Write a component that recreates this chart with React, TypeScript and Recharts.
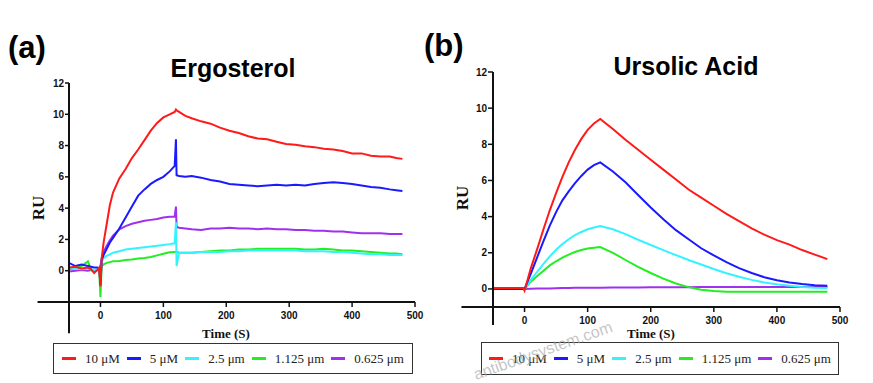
import { LineChart, Line, XAxis, YAxis, ReferenceLine } from 'recharts';

const seriesNames = ['10 μM', '5 μM', '2.5 μm', '1.125 μm', '0.625 μm'];
const seriesColors = ['#ff1a1a', '#1a1aff', '#33f3ff', '#22ee22', '#a030f0'];
// purple first, red last so red sits on top
const drawOrder = [4, 3, 2, 1, 0];

const timeTicks = [0, 100, 200, 300, 400, 500];
const ruTicks = [0, 2, 4, 6, 8, 10, 12];

// Ergosterol sensorgram, time in s
const ergoTime = [-50, -40, -30, -20, -15, -10, -5, -2, 0, 2, 5, 10, 15, 20, 30, 40, 50, 60, 70, 80, 90, 100, 110, 118, 120, 121, 125, 135, 145, 160, 175, 190, 205, 220, 235, 250, 265, 280, 295, 310, 325, 340, 355, 370, 385, 400, 415, 430, 445, 460, 470, 480];
const ergo10 = [0.2, 0.25, 0.15, 0.2, 0.1, -0.15, 0.05, 0.2, -1.0, 0.8, 1.8, 3.0, 4.2, 5.0, 5.9, 6.5, 7.2, 7.75, 8.35, 8.95, 9.45, 9.8, 10.0, 10.15, 10.3, 10.25, 10.15, 9.9, 9.75, 9.55, 9.4, 9.15, 8.95, 8.8, 8.6, 8.45, 8.4, 8.25, 8.1, 8.05, 7.95, 7.9, 7.8, 7.75, 7.65, 7.5, 7.5, 7.35, 7.3, 7.3, 7.2, 7.15];
const ergo5 = [0.5, 0.3, 0.4, 0.3, 0.25, 0.2, 0.2, 0.15, -0.9, 0.7, 1.0, 1.4, 1.8, 2.1, 2.7, 3.4, 4.1, 4.8, 5.2, 5.55, 5.8, 6.0, 6.35, 6.7, 8.4, 6.1, 6.05, 6.0, 6.05, 5.95, 5.8, 5.7, 5.55, 5.5, 5.45, 5.4, 5.45, 5.5, 5.45, 5.5, 5.45, 5.55, 5.6, 5.65, 5.6, 5.55, 5.45, 5.35, 5.3, 5.2, 5.15, 5.1];
const ergo2p5 = [0.2, 0.15, 0.1, 0.15, 0.1, 0.05, 0.1, 0.1, -0.5, 0.6, 0.8, 0.95, 1.05, 1.15, 1.25, 1.35, 1.4, 1.45, 1.5, 1.55, 1.6, 1.65, 1.7, 1.75, 3.1, 0.3, 1.15, 1.15, 1.15, 1.2, 1.2, 1.2, 1.25, 1.25, 1.3, 1.3, 1.3, 1.3, 1.3, 1.3, 1.25, 1.25, 1.25, 1.2, 1.2, 1.15, 1.1, 1.05, 1.05, 1.0, 1.0, 1.0];
const ergo1p125 = [0.1, 0.15, 0.3, 0.6, 0.05, 0.0, 0.05, 0.0, -1.7, 0.3, 0.4, 0.5, 0.55, 0.6, 0.62, 0.68, 0.72, 0.78, 0.82, 0.88, 0.98, 1.08, 1.18, 1.2, 1.2, 1.2, 1.15, 1.15, 1.15, 1.2, 1.25, 1.3, 1.3, 1.35, 1.35, 1.4, 1.4, 1.4, 1.4, 1.4, 1.35, 1.35, 1.4, 1.35, 1.3, 1.3, 1.25, 1.2, 1.15, 1.1, 1.1, 1.05];
const ergo0p625 = [-0.05, 0.0, 0.05, 0.0, 0.05, 0.0, 0.05, 0.05, 0.3, 0.8, 1.2, 1.6, 1.95, 2.25, 2.65, 2.85, 3.0, 3.1, 3.2, 3.25, 3.3, 3.4, 3.45, 3.45, 4.1, 2.8, 2.75, 2.7, 2.65, 2.6, 2.7, 2.7, 2.75, 2.7, 2.7, 2.65, 2.7, 2.65, 2.65, 2.6, 2.6, 2.55, 2.55, 2.5, 2.5, 2.45, 2.4, 2.4, 2.4, 2.35, 2.35, 2.35];

// Ursolic acid sensorgram, time in s
const ursoTime = [-50, -2, 0, 10, 20, 30, 40, 50, 60, 70, 80, 90, 100, 110, 120, 140, 160, 180, 200, 220, 240, 260, 280, 300, 320, 340, 360, 380, 400, 420, 440, 460, 480];
const urso10 = [0.05, 0.05, -0.1, 1.15, 2.2, 3.3, 4.35, 5.3, 6.2, 7.0, 7.7, 8.3, 8.8, 9.15, 9.4, 8.85, 8.25, 7.7, 7.15, 6.6, 6.05, 5.5, 5.05, 4.6, 4.15, 3.75, 3.35, 3.0, 2.7, 2.45, 2.15, 1.9, 1.65];
const urso5 = [0, 0, 0, 0.85, 1.75, 2.65, 3.5, 4.25, 4.9, 5.4, 5.85, 6.25, 6.6, 6.85, 7.0, 6.5, 5.9, 5.2, 4.5, 3.85, 3.25, 2.75, 2.25, 1.85, 1.48, 1.15, 0.88, 0.65, 0.48, 0.36, 0.27, 0.2, 0.17];
const urso2p5 = [0, 0, 0, 0.5, 0.95, 1.38, 1.8, 2.17, 2.48, 2.75, 2.97, 3.15, 3.3, 3.4, 3.48, 3.3, 3.03, 2.72, 2.43, 2.15, 1.87, 1.6, 1.35, 1.1, 0.87, 0.67, 0.5, 0.36, 0.26, 0.18, 0.11, 0.07, 0.05];
const urso1p125 = [0, 0, 0, 0.4, 0.72, 1.0, 1.3, 1.53, 1.73, 1.9, 2.04, 2.15, 2.24, 2.28, 2.32, 2.0, 1.6, 1.22, 0.88, 0.57, 0.3, 0.1, -0.04, -0.12, -0.15, -0.15, -0.15, -0.15, -0.15, -0.15, -0.15, -0.15, -0.15];
const urso0p625 = [0, 0, 0, 0.01, 0.02, 0.03, 0.03, 0.04, 0.05, 0.05, 0.06, 0.06, 0.07, 0.07, 0.07, 0.08, 0.08, 0.08, 0.09, 0.09, 0.09, 0.09, 0.1, 0.1, 0.1, 0.1, 0.1, 0.1, 0.1, 0.1, 0.1, 0.1, 0.1];

const AXIS = '#111';
const sans = 'Arial, "Liberation Sans", Helvetica, sans-serif';
const serif = '"Times New Roman", "Liberation Serif", serif';
const tickFont = { fontFamily: sans, fontSize: 10, fontWeight: 700, fill: '#111' };

function buildRows(time: number[], series: number[][]) {
  return time.map((t, i) => {
    const row: Record<string, number> = { t };
    series.forEach((vals, k) => {
      row[`s${k}`] = vals[i];
    });
    return row;
  });
}

const ergoRows = buildRows(ergoTime, [ergo10, ergo5, ergo2p5, ergo1p125, ergo0p625]);
const ursoRows = buildRows(ursoTime, [urso10, urso5, urso2p5, urso1p125, urso0p625]);

type PanelProps = {
  left: number;
  width: number;
  rows: Record<string, number>[];
  yDomain: [number, number];
  yFloor: number;
  yTickLen: number;
  margin: { top: number; right: number; bottom: number; left: number };
};

// GraphPad style frame: the axes cross at (-50, yMin) and run on past each other
function Panel({ left, width, rows, yDomain, yFloor, yTickLen, margin }: PanelProps) {
  const yMin = yDomain[0];
  return (
    <div style={{ position: 'absolute', left, top: 0 }}>
      <LineChart width={width} height={383} data={rows} margin={margin}>
        <XAxis
          type="number"
          dataKey="t"
          domain={[-50, 500]}
          ticks={timeTicks}
          allowDataOverflow
          height={30}
          tick={tickFont}
          tickSize={5}
          tickMargin={5}
          axisLine={{ stroke: AXIS, strokeWidth: 2 }}
          tickLine={{ stroke: AXIS, strokeWidth: 1.5 }}
        />
        <YAxis
          type="number"
          domain={yDomain}
          ticks={ruTicks}
          allowDataOverflow
          width={30}
          tick={tickFont}
          tickSize={yTickLen}
          tickMargin={1}
          axisLine={{ stroke: AXIS, strokeWidth: 2 }}
          tickLine={{ stroke: AXIS, strokeWidth: 1.5 }}
        />
        <ReferenceLine
          segment={[{ x: -100, y: yMin }, { x: -50, y: yMin }]}
          stroke={AXIS}
          strokeWidth={2}
          ifOverflow="visible"
        />
        <ReferenceLine
          segment={[{ x: -50, y: yFloor }, { x: -50, y: yMin }]}
          stroke={AXIS}
          strokeWidth={2}
          ifOverflow="visible"
        />
        {drawOrder.map((k) => (
          <Line
            key={k}
            type="linear"
            dataKey={`s${k}`}
            name={seriesNames[k]}
            stroke={seriesColors[k]}
            strokeWidth={2}
            dot={false}
            isAnimationActive={false}
          />
        ))}
      </LineChart>
    </div>
  );
}

function LegendBox({ left, top, width, height }: { left: number; top: number; width: number; height: number }) {
  return (
    <div
      style={{
        position: 'absolute',
        left,
        top,
        width,
        height,
        boxSizing: 'border-box',
        border: '1.5px solid #333',
        display: 'flex',
        alignItems: 'center',
        justifyContent: 'center',
        gap: 7,
        fontFamily: serif,
        fontSize: 13,
        color: '#222',
      }}
    >
      {seriesNames.map((name, k) => (
        <div key={name} style={{ display: 'flex', alignItems: 'center', gap: 9 }}>
          <span style={{ display: 'inline-block', width: 14, height: 2.5, background: seriesColors[k] }} />
          <span>{name}</span>
        </div>
      ))}
    </div>
  );
}

export default function App() {
  return (
    <div style={{ position: 'absolute', left: 0, top: 0, width: 873, height: 383, background: '#fff', overflow: 'hidden' }}>
      <Panel
        left={0}
        width={440}
        rows={ergoRows}
        yDomain={[-2, 12]}
        yFloor={-4}
        yTickLen={4}
        margin={{ top: 83, right: 25, bottom: 51, left: 39 }}
      />
      <Panel
        left={440}
        width={433}
        rows={ursoRows}
        yDomain={[-1, 12]}
        yFloor={-2}
        yTickLen={5}
        margin={{ top: 72, right: 33, bottom: 46, left: 23 }}
      />
      <LegendBox left={53} top={343} width={360} height={31} />
      <LegendBox left={481} top={342} width={358} height={33} />
      <svg width={873} height={383} style={{ position: 'absolute', left: 0, top: 0, pointerEvents: 'none' }}>
        <g fontFamily={sans} fontWeight={700} fill="#000">
          <text x={8} y={58} fontSize={31}>(a)</text>
          <text x={424} y={56} fontSize={31}>(b)</text>
          <text x={233} y={77} fontSize={25} textAnchor="middle">Ergosterol</text>
          <text x={686} y={75} fontSize={25} textAnchor="middle">Ursolic Acid</text>
        </g>
        <g fontFamily={serif} fontWeight={700} fill="#111">
          <text x={38} y={208} fontSize={17} textAnchor="middle" dominantBaseline="central" transform="rotate(-90 38 208)">RU</text>
          <text x={462} y={198} fontSize={17} textAnchor="middle" dominantBaseline="central" transform="rotate(-90 462 198)">RU</text>
          <text x={226} y={333} fontSize={13} textAnchor="middle" dominantBaseline="central">Time (S)</text>
          <text x={651} y={333} fontSize={13} textAnchor="middle" dominantBaseline="central">Time (S)</text>
        </g>
        <text x={476} y={380} fontFamily={sans} fontSize={16} fill="#aaa" fillOpacity={0.7} transform="rotate(-19.5 476 380)">
          antibodysystem.com
        </text>
      </svg>
    </div>
  );
}
